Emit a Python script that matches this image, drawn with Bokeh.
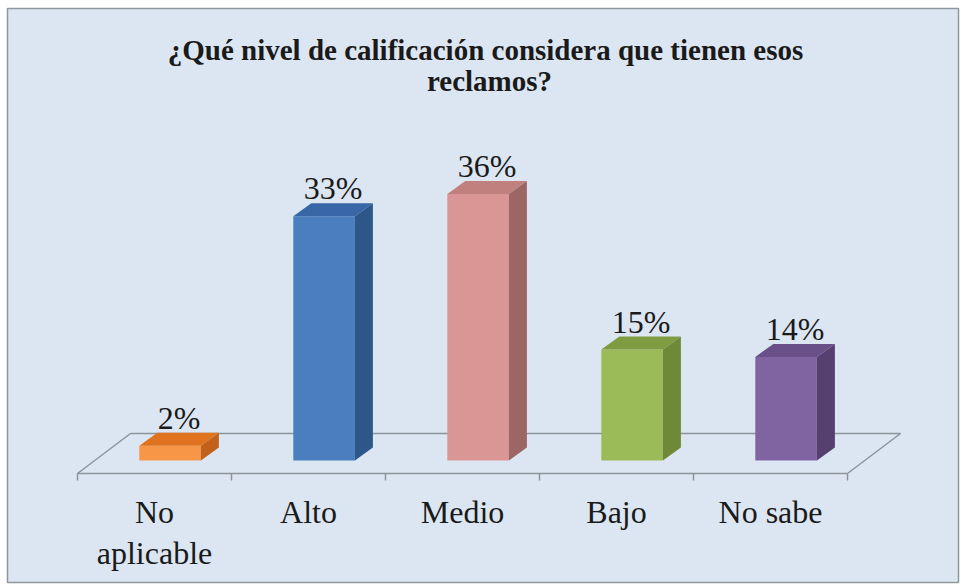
from bokeh.plotting import figure
from bokeh.models import Range1d, ColumnDataSource
from bokeh.core.properties import value
from bokeh.embed import file_html
from bokeh.resources import INLINE

# ---- data ----
categories = ["No\naplicable", "Alto", "Medio", "Bajo", "No sabe"]
values = [2, 33, 36, 15, 14]
value_labels = ["2%", "33%", "36%", "15%", "14%"]
title_lines = ["¿Qué nivel de calificación considera que tienen esos", "reclamos?"]

front_colors = ["#F79646", "#4A7EBF", "#D99694", "#9BBB59", "#8064A2"]
top_colors = ["#E0731E", "#3866A6", "#C0807D", "#7F9C43", "#6A5089"]
side_colors = ["#C2611A", "#2E5789", "#9C6664", "#6E8A38", "#564070"]

# ---- layout constants (pixels) ----
W, H = 961, 584
ML, MT, MR, MB = 7, 8, 3, 2          # white margin around the chart frame
FW, FH = W - ML - MR, H - MT - MB    # frame size
BG = "#DCE6F2"
FONT = "'Liberation Serif', 'Times New Roman', 'DejaVu Serif', serif"
TXT = "#1A1A1A"
x0_px, px_per_cat = 70.0, 154.0      # first category boundary, category width
zero_px, px_per_pct = 452.0, 7.4     # bar baseline, pixels per percent

xs0 = -x0_px / px_per_cat
ye0 = zero_px / px_per_pct


def dx(px):
    return px / px_per_cat


def dy(px):
    return px / px_per_pct


def fx(px):  # frame px -> data x
    return xs0 + px / px_per_cat


def fy(py):  # frame py (from top) -> data y
    return ye0 - py / px_per_pct


bar_shift = dx(15.6)              # bar front plane offset from floor front
bdx, bdy = dx(18), dy(13)         # bar depth
floor_front = -dy(13)
floor_back_dx, floor_back_y = dx(53), dy(27)
bw = 0.40
n = len(categories)

p = figure(width=W, height=H,
           x_range=Range1d(xs0, xs0 + FW / px_per_cat),
           y_range=Range1d(ye0 - FH / px_per_pct, ye0),
           output_backend="svg", toolbar_location=None,
           min_border_left=ML, min_border_top=MT,
           min_border_right=MR, min_border_bottom=MB,
           x_axis_location=None, y_axis_location=None)
p.grid.visible = False
p.background_fill_color = BG
p.border_fill_color = "white"
p.outline_line_color = "#8E979F"
p.outline_line_width = 1.5

# ---- floor (3D base) ----
floor_col = "#8A949C"
flx = [[0, n], [floor_back_dx, n + floor_back_dx], [0, floor_back_dx], [n, n + floor_back_dx]]
fly = [[floor_front, floor_front], [floor_back_y, floor_back_y],
       [floor_front, floor_back_y], [floor_front, floor_back_y]]
p.multi_line(flx, fly, line_color=floor_col, line_width=1.5)
p.segment(x0=list(range(n + 1)), y0=[floor_front] * (n + 1),
          x1=list(range(n + 1)), y1=[floor_front - dy(7)] * (n + 1),
          line_color=floor_col, line_width=1.5)

# ---- bars ----
centers = [i + 0.5 for i in range(n)]
lefts = [c + bar_shift - bw / 2 for c in centers]
rights = [c + bar_shift + bw / 2 for c in centers]

top_xs, top_ys, side_xs, side_ys = [], [], [], []
for L, R, v in zip(lefts, rights, values):
    top_xs.append([L, R, R + bdx, L + bdx])
    top_ys.append([v, v, v + bdy, v + bdy])
    side_xs.append([R, R + bdx, R + bdx, R])
    side_ys.append([0, bdy, v + bdy, v])

p.quad(left=lefts, right=rights, bottom=[0] * n, top=values,
       fill_color=front_colors, line_color=None)
p.patches(top_xs, top_ys, fill_color=top_colors, line_color=None)
p.patches(side_xs, side_ys, fill_color=side_colors, line_color=None)

# ---- value labels ----
lab_src = ColumnDataSource(dict(x=[c + bar_shift + bdx / 2 for c in centers],
                                y=[v + bdy for v in values],
                                t=value_labels))
p.text(x="x", y="y", text="t", source=lab_src, text_align="center",
       text_baseline="top", y_offset=-33,
       text_font=value(FONT), text_font_size="32px", text_color=TXT)

# ---- category labels ----
cat_src = ColumnDataSource(dict(x=centers, y=[floor_front] * n, t=categories))
p.text(x="x", y="y", text="t", source=cat_src, text_align="center",
       text_baseline="top", y_offset=20, text_line_height=1.16,
       text_font=value(FONT), text_font_size="32px", text_color=TXT)

# ---- title ----
title_src = ColumnDataSource(dict(x=[fx(478), fx(482)], y=[fy(25.7), fy(56.5)],
                                  t=title_lines))
p.text(x="x", y="y", text="t", source=title_src, text_align="center",
       text_baseline="top", text_font=value(FONT), text_font_size="29px",
       text_font_style="bold", text_color=TXT)

open("out.html", "w").write(file_html(p, INLINE))
